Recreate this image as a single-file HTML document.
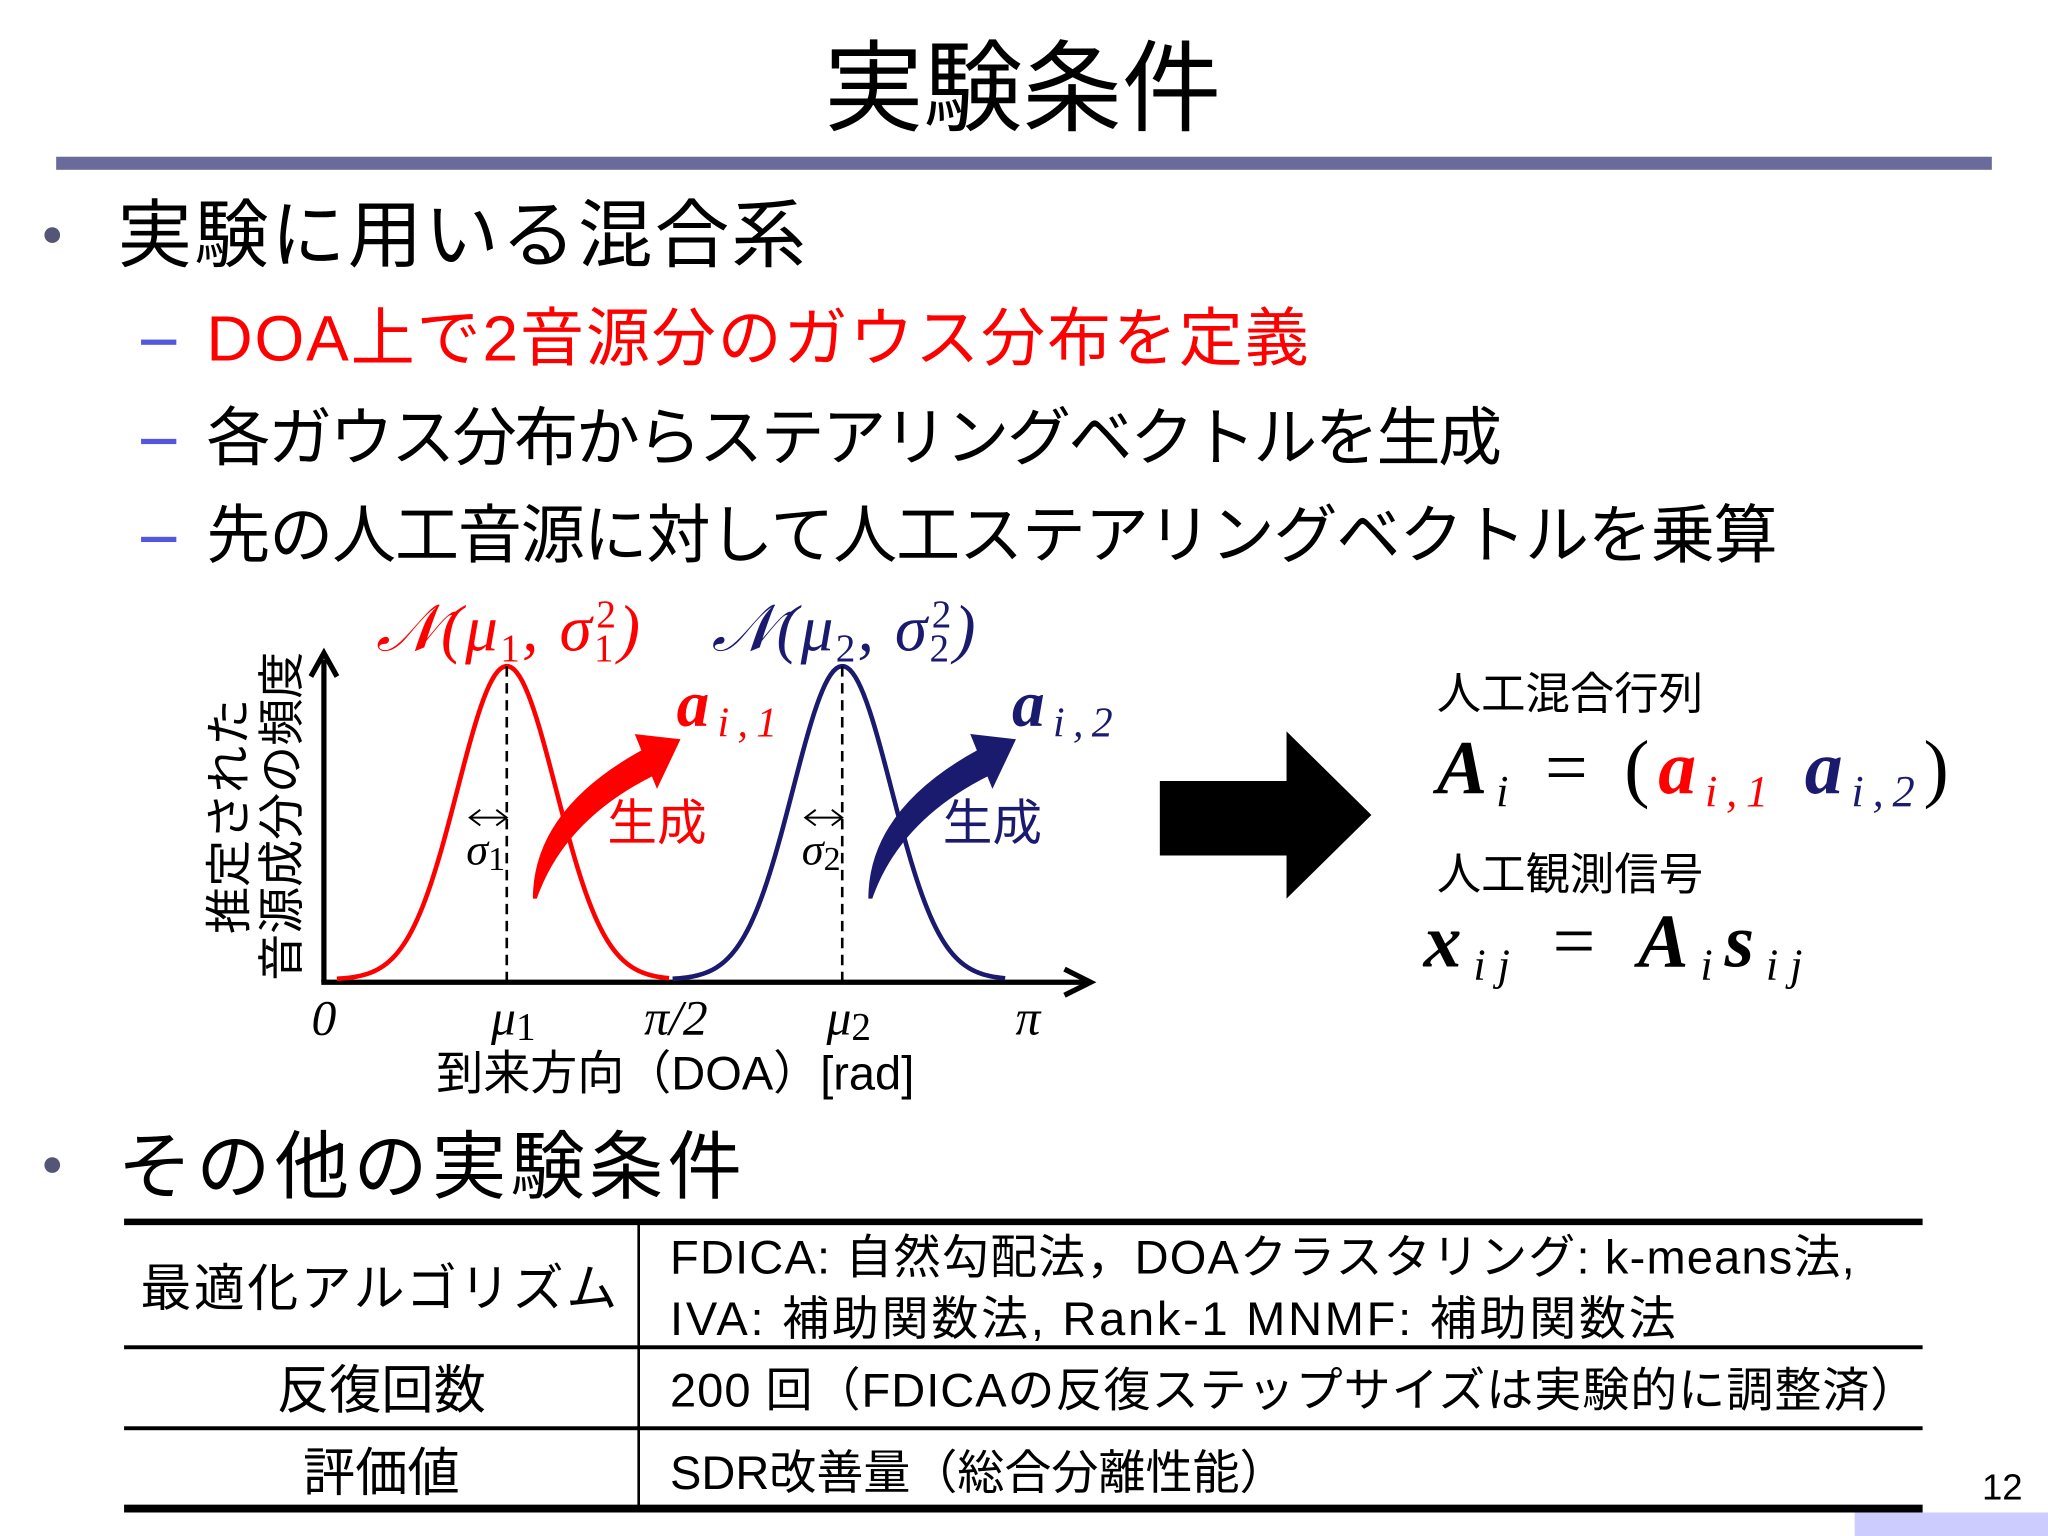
<!DOCTYPE html>
<html><head><meta charset="utf-8"><style>
html,body{margin:0;padding:0;background:#fff;}
svg{display:block;}
text{font-family:"Liberation Sans","Noto Sans CJK JP",sans-serif;}
.ser{font-family:"Liberation Serif","Noto Serif CJK SC",serif;font-style:italic;}
</style></head><body>
<svg id="slide" width="2048" height="1536" viewBox="0 0 1568 1176" xmlns="http://www.w3.org/2000/svg">
<rect width="1568" height="1176" fill="#fff"/>
<text x="783" y="94" font-size="76" text-anchor="middle" fill="#000">実験条件</text>
<rect x="43" y="120" width="1482" height="10" fill="#6b6b9b"/>

<circle cx="40" cy="180" r="6" fill="#555577"/>
<text x="90" y="200" font-size="57" textLength="527">実験に用いる混合系</text>
<g>
<rect x="108" y="260" width="27" height="4" fill="#5555dd"/>
<text x="158" y="276" font-size="49" fill="#ff0000" textLength="844">DOA上で2音源分のガウス分布を定義</text>
<rect x="108" y="336" width="27" height="4" fill="#5555dd"/>
<text x="158" y="352" font-size="49" textLength="992">各ガウス分布からステアリングベクトルを生成</text>
<rect x="108" y="411" width="27" height="4" fill="#5555dd"/>
<text x="158" y="427" font-size="49" textLength="1203">先の人工音源に対して人工ステアリングベクトルを乗算</text>
</g>

<g id="chart"></g>

<g>
<polygon points="888,598 985,598 985,560 1050,624 985,688 985,655 888,655" fill="#000"/>
</g>
<g>
<text x="1100" y="543" font-size="34">人工混合行列</text>
<text x="1100" y="607" font-size="58" class="ser" textLength="392"><tspan font-weight="bold">A</tspan><tspan font-size="34" dy="10">i</tspan><tspan dy="-10" font-style="normal"> = (</tspan><tspan fill="#ff0000" font-weight="bold">a</tspan><tspan fill="#ff0000" font-size="34" dy="10">i,1</tspan><tspan dy="-10"> </tspan><tspan fill="#1a1a6e" font-weight="bold">a</tspan><tspan fill="#1a1a6e" font-size="34" dy="10">i,2</tspan><tspan dy="-10" font-style="normal">)</tspan></text>
<text x="1100" y="681" font-size="34">人工観測信号</text>
<text x="1090" y="740" font-size="58" class="ser" font-weight="bold" textLength="290">x<tspan font-size="34" font-weight="normal" dy="10">ij</tspan><tspan dy="-10" font-style="normal" font-weight="normal"> = </tspan>A<tspan font-size="34" font-weight="normal" dy="10">i</tspan><tspan dy="-10">s</tspan><tspan font-size="34" font-weight="normal" dy="10">ij</tspan></text>
</g>

<circle cx="40" cy="892" r="6" fill="#555577"/>
<text x="90" y="913" font-size="57" textLength="478">その他の実験条件</text>

<g>
<rect x="95" y="933" width="1377" height="5" fill="#000"/>
<rect x="95" y="1030" width="1377" height="3" fill="#000"/>
<rect x="95" y="1092" width="1377" height="3" fill="#000"/>
<rect x="95" y="1152" width="1377" height="6" fill="#000"/>
<rect x="488" y="936" width="2" height="218" fill="#000"/>
<text x="290" y="1000" font-size="39" text-anchor="middle" textLength="365">最適化アルゴリズム</text>
<text x="513" y="975" font-size="36" textLength="907">FDICA: 自然勾配法，DOAクラスタリング: k-means法,</text>
<text x="513" y="1022" font-size="36" textLength="770">IVA: 補助関数法, Rank-1 MNMF: 補助関数法</text>
<text x="292" y="1078" font-size="40" text-anchor="middle">反復回数</text>
<text x="513" y="1077" font-size="36" textLength="955">200 回（FDICAの反復ステップサイズは実験的に調整済）</text>
<text x="292" y="1141" font-size="40" text-anchor="middle">評価値</text>
<text x="513" y="1140" font-size="36" textLength="472">SDR改善量（総合分離性能）</text>
</g>
<text x="1533" y="1148" font-size="28" text-anchor="middle">12</text>
<rect x="1420" y="1158" width="148" height="18" fill="#ccccff"/>
</svg>
<script>
const means = [0.816, 2.313];
const sigmas = [0.22, 0.22];
const ranges = [[0.058, 1.54], [1.556, 3.04]];
const colors = ['#ff0000', '#1a1a6e'];
const tickValues = [0, 0.816, 1.5708, 2.313, 3.1416];
const tickLabels = ['0', 'μ1', 'π/2', 'μ2', 'π'];

const NS = 'http://www.w3.org/2000/svg';
const g = document.getElementById('chart');
const x0 = 248, xPi = 787, yBase = 750, yPeak = 510;
const xs = v => x0 + v / Math.PI * (xPi - x0);
const ys = v => yBase - v * (yBase - yPeak);
function mk(tag, attrs, parent) {
  const e = document.createElementNS(NS, tag);
  for (const k in attrs) e.setAttribute(k, attrs[k]);
  (parent || g).appendChild(e);
  return e;
}
const ax = mk('g', {});


mk('line', {x1: 248, y1: 752, x2: 248, y2: 505, stroke: '#000', 'stroke-width': 4}, ax);
mk('polyline', {points: '238,518 248,500 258,518', fill: 'none', stroke: '#000', 'stroke-width': 4}, ax);
mk('line', {x1: 246, y1: 752, x2: 832, y2: 752, stroke: '#000', 'stroke-width': 4}, ax);
mk('polyline', {points: '815,742 835,752 815,762', fill: 'none', stroke: '#000', 'stroke-width': 4}, ax);

means.forEach((m, i) => {
  let d = '';
  const [a, b] = ranges[i];
  for (let k = 0; k <= 120; k++) {
    const v = a + (b - a) * k / 120;
    const y = Math.exp(-0.5 * Math.pow((v - m) / sigmas[i], 2));
    d += (k ? 'L' : 'M') + xs(v).toFixed(2) + ',' + ys(y).toFixed(2);
  }
  const c = mk('path', {d: d, fill: 'none', stroke: colors[i], 'stroke-width': 3.5});
  
  
  const dl = mk('line', {x1: xs(m), y1: ys(1), x2: xs(m), y2: 752, stroke: '#000', 'stroke-width': 2, 'stroke-dasharray': '8,5'});
  
  
  const sy = 626, sx1 = xs(m - sigmas[i] * 0.75), sx2 = xs(m);
  const sa = mk('g', {});
  
  
  mk('line', {x1: sx1, y1: sy, x2: sx2, y2: sy, stroke: '#000', 'stroke-width': 1.5}, sa);
  mk('polyline', {points: `${sx1+8},${sy-6} ${sx1},${sy} ${sx1+8},${sy+6}`, fill: 'none', stroke: '#000', 'stroke-width': 1.5}, sa);
  mk('polyline', {points: `${sx2-8},${sy-6} ${sx2},${sy} ${sx2-8},${sy+6}`, fill: 'none', stroke: '#000', 'stroke-width': 1.5}, sa);
  const st = mk('text', {x: (sx1 + sx2) / 2 - 2, y: 662, 'font-size': 34, 'text-anchor': 'middle', class: 'ser'}, sa);
  st.innerHTML = 'σ<tspan font-size="26" font-style="normal" dy="4">' + (i + 1) + '</tspan>';
  const off = xs(m) - xs(means[0]);
  const ga = mk('g', {transform: `translate(${off},0)`});
  
  
  mk('path', {d: 'M408,688 Q408,620 492,574 L500,594 Q432,628 411,688 Z', fill: colors[i]}, ga);
  mk('polygon', {points: '486,562 521,566 503,604', fill: colors[i]}, ga);
  const gt = mk('text', {x: 465, y: 643, 'font-size': 38, fill: colors[i]}, ga);
  gt.textContent = '生成';
  
  
  const nt = mk('text', {x: xs(m) - 100, y: 498, 'font-size': 50, fill: colors[i], class: 'ser', textLength: 202});
  nt.innerHTML = '𝒩(μ<tspan font-size="30" font-style="normal" dy="8">' + (i + 1) + '</tspan><tspan dy="-8">, σ</tspan><tspan font-size="30" font-style="normal" dy="8">' + (i + 1) + '</tspan><tspan font-size="30" font-style="normal" dx="-15" dy="-26">2</tspan><tspan dy="18">)</tspan>';
  
  
  const at = mk('text', {x: xs(m) + 130, y: 556, 'font-size': 50, fill: colors[i], class: 'ser', 'font-weight': 'bold', textLength: 77});
  at.innerHTML = 'a<tspan font-size="32" font-weight="normal" dy="8">i,' + (i + 1) + '</tspan>';
  
  
});

tickValues.forEach((v, i) => {
  const t = mk('text', {x: xs(v) + (i === 1 || i === 3 ? 5 : 0), y: 792, 'font-size': 38, 'text-anchor': 'middle', class: 'ser'});
  if (tickLabels[i].length === 2 && tickLabels[i][0] === 'μ') {
    t.innerHTML = 'μ<tspan font-size="30" font-style="normal" dy="4">' + tickLabels[i][1] + '</tspan>';
  } else {
    t.textContent = tickLabels[i];
    t.setAttribute('font-style', 'normal');
  }
  
  
});
const xl = mk('text', {x: 517, y: 834, 'font-size': 36, 'text-anchor': 'middle'});
xl.textContent = '到来方向（DOA）[rad]';


const yl = mk('text', {transform: 'translate(188,625) rotate(-90)', 'font-size': 36, 'text-anchor': 'middle'});
yl.innerHTML = '<tspan x="0" y="0">推定された</tspan><tspan x="0" y="40">音源成分の頻度</tspan>';


</script>
</body></html>
